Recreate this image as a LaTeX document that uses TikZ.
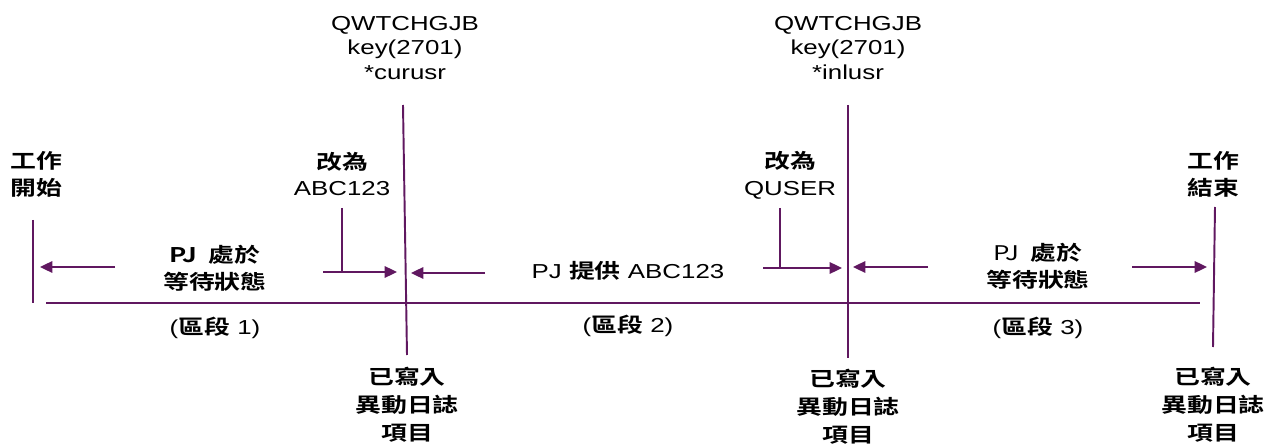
\documentclass[tikz,border=0pt]{standalone}
\usepackage{fontspec}
\setmainfont{Liberation Sans}[FakeStretch=1.28]
\newfontfamily\cjk{Noto Sans CJK TC}[FakeStretch=1.28,BoldFont={Noto Sans CJK TC Bold}]
\usetikzlibrary{arrows.meta}
\definecolor{ink}{RGB}{96,24,96}
\begin{document}
\begin{tikzpicture}[x=0.02cm,y=-0.02cm,
  ln/.style={draw=ink,line width=1.1pt},
  arr/.style={ln,-{Triangle[length=7pt,width=6.5pt]}},
  lbl/.style={align=center,inner sep=0pt,font=\fontsize{11.5}{15.3}\selectfont},
  tight/.style={font=\fontsize{11.5}{14.2}\selectfont},
  loose/.style={font=\fontsize{11.5}{16}\selectfont}]
\useasboundingbox (0,0) rectangle (1269,446);
% labels
\node[lbl] (s) at (36,174) {\cjk\bfseries 工作\\\cjk\bfseries 開始};
\node[lbl] (e) at (1213,174) {\cjk\bfseries 工作\\\cjk\bfseries 結束};
\node[lbl,tight] (q1) at (405,48) {QWTCHGJB\\key(2701)\\*curusr};
\node[lbl,tight] (q2) at (848,48) {QWTCHGJB\\key(2701)\\*inlusr};
\node[lbl] (c1) at (342,174) {\cjk\bfseries 改為\\ABC123};
\node[lbl] (c2) at (790,175) {\cjk\bfseries 改為\\QUSER};
\node[lbl] (p1) at (215,268) {\cjk\bfseries PJ\ \ 處於\\\cjk\bfseries 等待狀態};
\node[lbl] (p2) at (628,271) {PJ {\cjk\bfseries 提供} ABC123};
\node[lbl] (p3) at (1038,266) {\cjk PJ\ \ {\bfseries 處於}\\\cjk\bfseries 等待狀態};
\node[lbl] (g1) at (215,328) {({\cjk\bfseries 區段} 1)};
\node[lbl] (g2) at (628,326) {({\cjk\bfseries 區段} 2)};
\node[lbl] (g3) at (1038,328) {({\cjk\bfseries 區段} 3)};
\node[lbl,loose] (j1) at (407,405) {\cjk\bfseries 已寫入\\\cjk\bfseries 異動日誌\\\cjk\bfseries 項目};
\node[lbl,loose] (j2) at (848,407) {\cjk\bfseries 已寫入\\\cjk\bfseries 異動日誌\\\cjk\bfseries 項目};
\node[lbl,loose] (j3) at (1213,405) {\cjk\bfseries 已寫入\\\cjk\bfseries 異動日誌\\\cjk\bfseries 項目};
% coordinates
\coordinate (h0) at (46,303);
\coordinate (h1) at (1200,303);
\coordinate (s0) at (33,220);
\coordinate (s1) at (33,303);
\coordinate (v1t) at (403,105);
\coordinate (v1b) at (407,355);
\coordinate (v2t) at (848,105);
\coordinate (v2b) at (848,358);
\coordinate (e0) at (1215,207);
\coordinate (e1) at (1213,347);
\coordinate (a1s) at (115,267); \coordinate (a1e) at (40,267);
\coordinate (b1s) at (323,272); \coordinate (b1e) at (397,272);
\coordinate (t1) at (342,208); \coordinate (t1b) at (342,272);
\coordinate (a2s) at (485,273); \coordinate (a2e) at (411,273);
\coordinate (b2s) at (763,268); \coordinate (b2e) at (842,268);
\coordinate (t2) at (780,208); \coordinate (t2b) at (780,268);
\coordinate (a3s) at (928,267); \coordinate (a3e) at (853,267);
\coordinate (b3s) at (1132,267); \coordinate (b3e) at (1207,267);
% lines
\draw[ln] (h0) -- (h1);
\draw[ln] (s0) -- (s1);
\draw[ln] (v1t) -- (v1b);
\draw[ln] (v2t) -- (v2b);
\draw[ln] (e0) -- (e1);
\draw[arr] (a1s) -- (a1e);
\draw[arr] (b1s) -- (b1e);
\draw[ln] (t1) -- (t1b);
\draw[arr] (a2s) -- (a2e);
\draw[arr] (b2s) -- (b2e);
\draw[ln] (t2) -- (t2b);
\draw[arr] (a3s) -- (a3e);
\draw[arr] (b3s) -- (b3e);
\end{tikzpicture}
\end{document}
